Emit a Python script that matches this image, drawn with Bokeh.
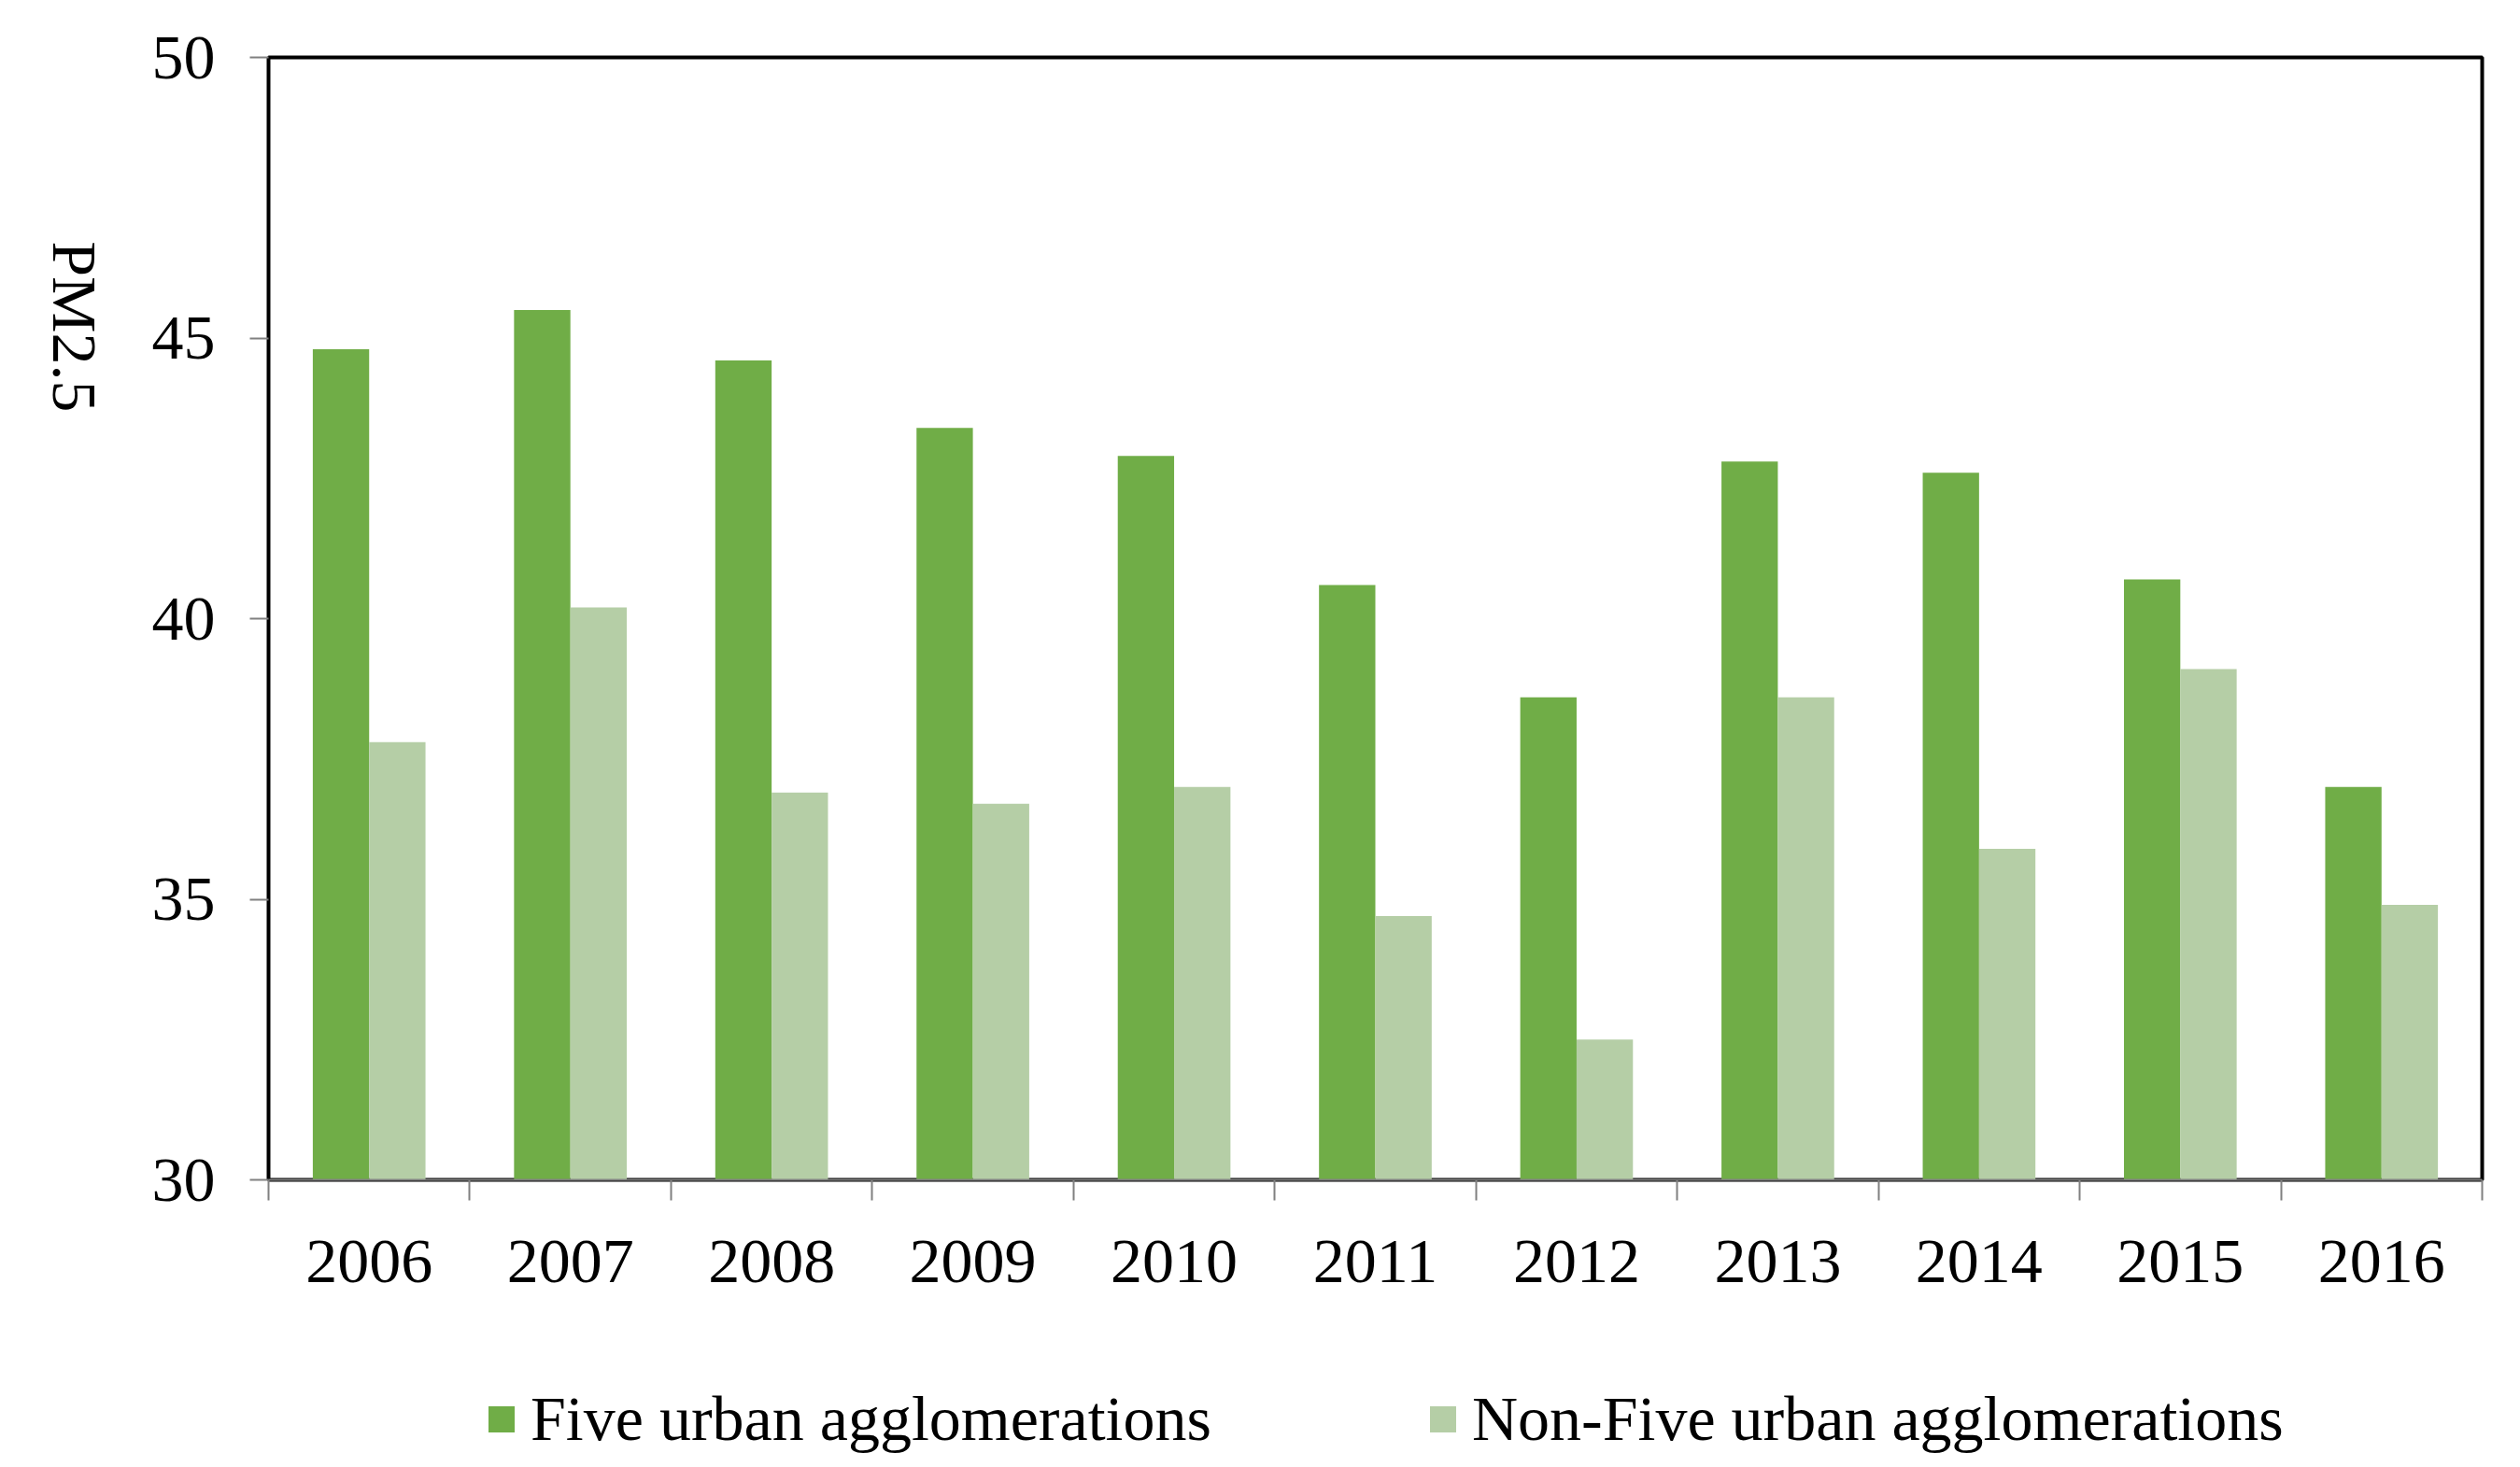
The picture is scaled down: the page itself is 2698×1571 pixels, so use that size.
import math
import numpy as np
from bokeh.plotting import figure
from bokeh.layouts import column
from bokeh.models import (Range1d, FixedTicker, Legend, LegendItem,
                          ColumnDataSource)
from bokeh.embed import file_html
from bokeh.resources import INLINE

years = ["2006", "2007", "2008", "2009", "2010", "2011", "2012", "2013", "2014", "2015", "2016"]
five_urban = [44.8, 45.5, 44.6, 43.4, 42.9, 40.6, 38.6, 42.8, 42.6, 40.7, 37.0]
non_five_urban = [37.8, 40.2, 36.9, 36.7, 37.0, 34.7, 32.5, 38.6, 35.9, 39.1, 34.9]
y_ticks = [30, 35, 40, 45, 50]
y_title = "PM2.5"
series_names = ["Five urban agglomerations", "Non-Five urban agglomerations"]

FONT = "Liberation Serif"
FS = "68px"
C_FIVE = "#70AD47"
C_NON = "#B5CEA6"

n = len(years)
centers = np.arange(n) + 0.5
bar_w = 0.28

src = ColumnDataSource(dict(
    x_five=centers - bar_w / 2,
    x_non=centers + bar_w / 2,
    five=five_urban,
    non=non_five_urban,
))

# ---- main chart ----
p = figure(width=2682, height=1400, output_backend="svg", toolbar_location=None,
           x_range=Range1d(0, n), y_range=Range1d(30, 50),
           min_border_left=282, min_border_right=25, min_border_top=61,
           min_border_bottom=137)

p.vbar(x="x_five", top="five", bottom=30, width=bar_w, source=src,
       fill_color=C_FIVE, line_color=None)
p.vbar(x="x_non", top="non", bottom=30, width=bar_w, source=src,
       fill_color=C_NON, line_color=None)

p.grid.visible = False
p.background_fill_color = "white"
p.border_fill_color = "white"
p.outline_line_color = "black"
p.outline_line_width = 4

# y axis
yax = p.yaxis[0]
yax.ticker = FixedTicker(ticks=y_ticks)
yax.axis_line_color = None
yax.major_tick_line_color = "#808080"
yax.major_tick_line_width = 2
yax.major_tick_out = 20
yax.major_tick_in = 0
yax.minor_tick_line_color = None
yax.major_label_standoff = 37
yax.major_label_text_font = FONT
yax.major_label_text_font_size = FS
yax.major_label_text_color = "black"

# y-axis title, reading top to bottom, placed in the upper half of the axis
yax.axis_label = y_title + " " * 13
yax.axis_label_orientation = -math.pi / 2
yax.axis_label_standoff = 80
yax.axis_label_text_font = FONT
yax.axis_label_text_font_size = FS
yax.axis_label_text_font_style = "normal"
yax.axis_label_text_color = "black"

# x axis: labels at centers, ticks at category boundaries
xax = p.xaxis[0]
xax.ticker = FixedTicker(ticks=list(centers), minor_ticks=list(range(n + 1)))
xax.major_label_overrides = {float(c): y for c, y in zip(centers, years)}
xax.axis_line_color = "#808080"
xax.axis_line_width = 2
xax.major_tick_line_color = None
xax.major_tick_out = 0
xax.major_tick_in = 0
xax.minor_tick_line_color = "#808080"
xax.minor_tick_line_width = 2
xax.minor_tick_out = 22
xax.minor_tick_in = 0
xax.major_label_standoff = 43
xax.major_label_text_font = FONT
xax.major_label_text_font_size = FS
xax.major_label_text_color = "black"

# ---- legend strip below the chart (its frame aligns with the chart's frame) ----
lg = figure(width=2682, height=163, output_backend="svg", toolbar_location=None,
            x_range=Range1d(1000, 1001), y_range=Range1d(1000, 1001),
            x_axis_location=None, y_axis_location=None,
            min_border_left=282, min_border_right=25, min_border_top=0,
            min_border_bottom=0)
lg.grid.visible = False
lg.outline_line_color = None
lg.background_fill_color = "white"
lg.border_fill_color = "white"
# keys that only feed the legend swatches (their bars lie outside this strip's view)
k1 = lg.vbar(x="x_five", top="five", bottom=30, width=bar_w, source=src,
             fill_color=C_FIVE, line_color=None)
k2 = lg.vbar(x="x_non", top="non", bottom=30, width=bar_w, source=src,
             fill_color=C_NON, line_color=None)

legend = Legend(items=[LegendItem(label=series_names[0], renderers=[k1]),
                       LegendItem(label=series_names[1], renderers=[k2])],
                orientation="horizontal", location=(232, 4),
                glyph_width=35, glyph_height=35, label_standoff=14, spacing=230,
                label_text_font=FONT, label_text_font_size=FS, label_text_color="black",
                border_line_color=None, background_fill_alpha=0,
                margin=0, padding=0)
lg.add_layout(legend, "center")

layout = column(p, lg, spacing=0)
open("out.html", "w").write(file_html(layout, INLINE))
